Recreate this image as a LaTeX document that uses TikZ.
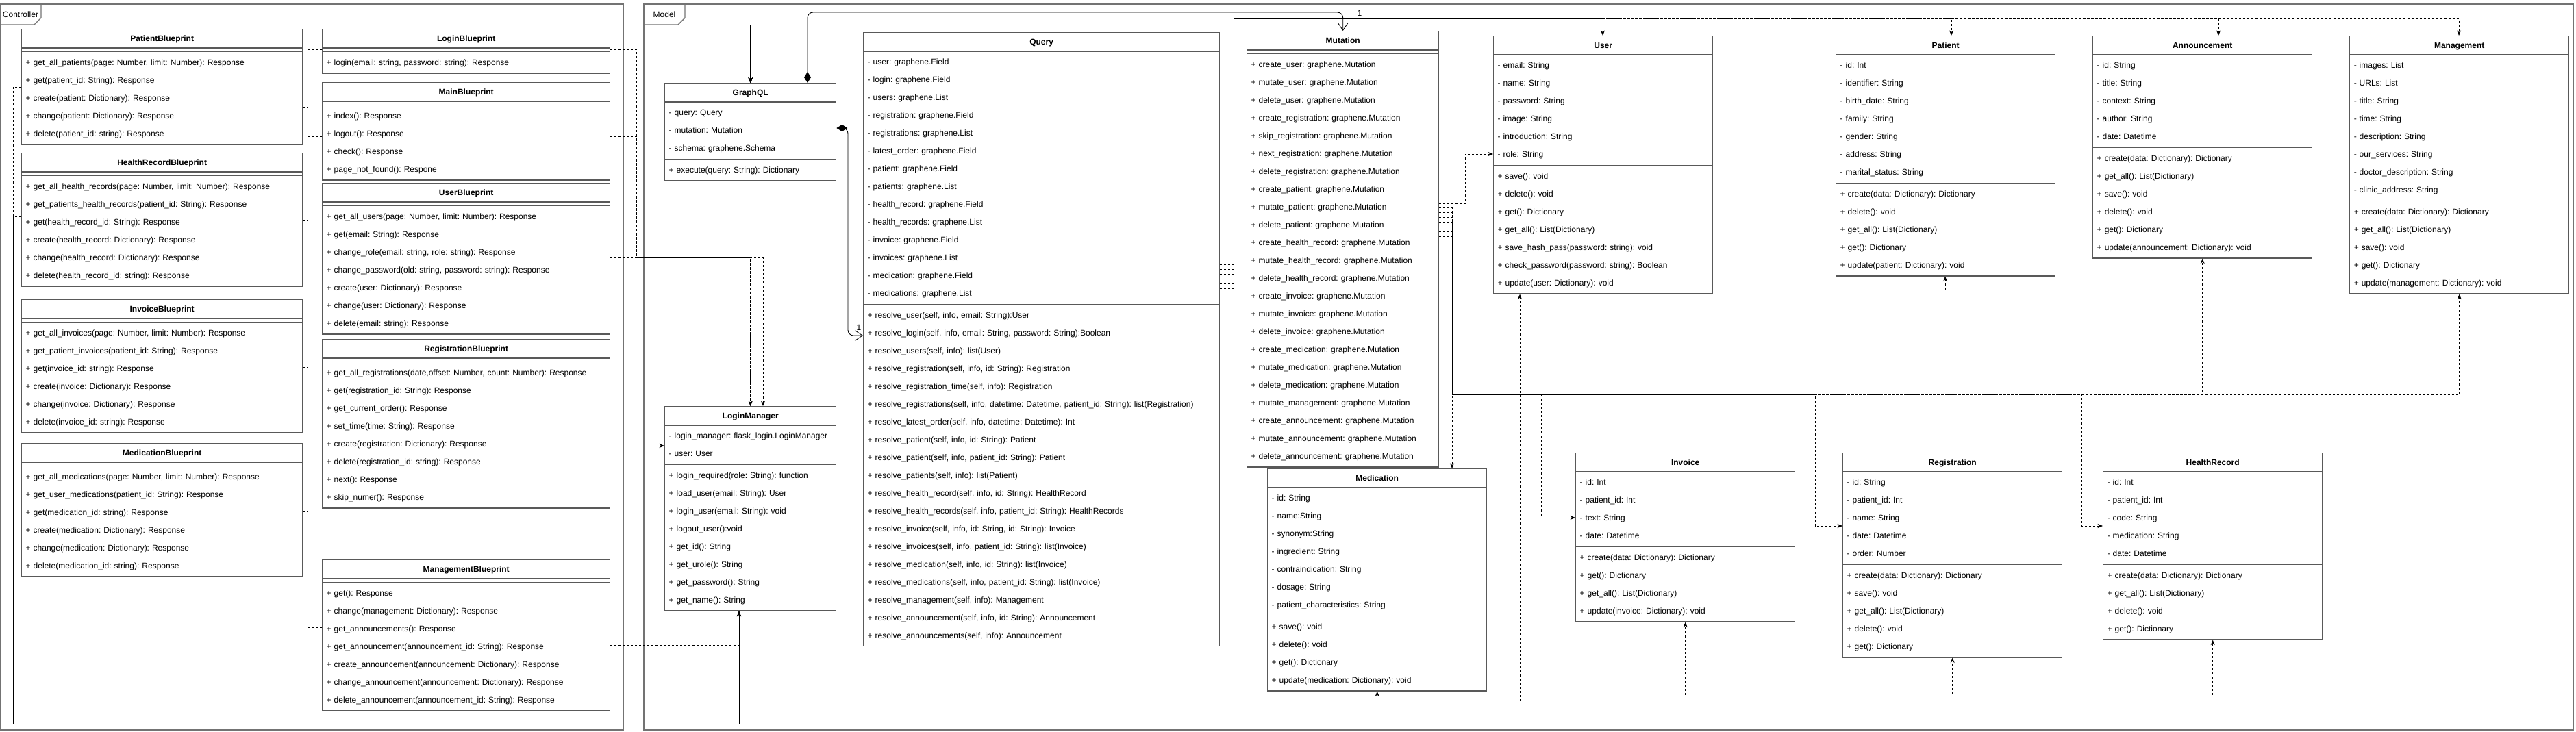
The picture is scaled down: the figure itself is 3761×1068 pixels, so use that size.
\documentclass[tikz,border=0pt]{standalone}
\usepackage{fontspec}
\setmainfont{Liberation Sans}
\usetikzlibrary{shapes.multipart,arrows.meta}
\newcommand\rw{\rule[-0.18cm]{0pt}{0.52cm}}
\newcommand\nl{\\\rw}
\newcommand\ttl[1]{\rule[-0.14cm]{0pt}{0.44cm}\hfill\textbf{#1}\hfill\null}
\tikzset{
	umlclass/.style={rectangle split, rectangle split parts=3, draw=black!65, line width=0.8pt, fill=white, anchor=north west, align=left, inner xsep=0.12cm, inner ysep=0.04cm, rectangle split empty part height=0pt, text width=#1},
	umlclass/.default=6.16cm,
	frame/.style={draw=black!55, line width=0.8pt},
	uses/.style={line width=0.5pt, dash pattern=on 0.06cm off 0.06cm, -{Stealth[length=0.15cm,width=0.12cm]}},
	link/.style={line width=0.5pt, -{Stealth[length=0.15cm,width=0.12cm]}},
	owns/.style={line width=0.5pt, rounded corners=0.16cm, {Diamond[length=0.32cm,width=0.2cm]}-{Straight Barb[length=0.22cm,width=0.3cm]}},
}
\begin{document}
\begin{tikzpicture}[x=0.02cm, y=-0.02cm, font=\fontsize{6.83pt}{0.52cm}\selectfont\frenchspacing]
	\useasboundingbox (0,0) rectangle (3761,1068);
	
	\draw[frame] (0.5,6) rectangle (910,1066);
	\draw[frame] (0.5,36) -- (50,36) -- (60,26) -- (60,6);
	\node (ctrl) at (30,21) {Controller};
	\coordinate (ctrltab) at (50,36);
	\draw[frame] (940,6) rectangle (3757,1066);
	\draw[frame] (940,36) -- (990,36) -- (1000,26) -- (1000,6);
	\node (model) at (970,21) {Model};
	
	\node[umlclass=7.96cm] (patbp) at (31,42) {\ttl{PatientBlueprint}\nodepart{second}\nodepart{third}\rw + get\_all\_patients(page: Number, limit: Number): Response\nl + get(patient\_id: String): Response\nl + create(patient: Dictionary): Response\nl + change(patient: Dictionary): Response\nl + delete(patient\_id: string): Response};
	\node[umlclass=7.96cm] (hrbp) at (31,223) {\ttl{HealthRecordBlueprint}\nodepart{second}\nodepart{third}\rw + get\_all\_health\_records(page: Number, limit: Number): Response\nl + get\_patients\_health\_records(patient\_id: String): Response\nl + get(health\_record\_id: String): Response\nl + create(health\_record: Dictionary): Response\nl + change(health\_record: Dictionary): Response\nl + delete(health\_record\_id: string): Response};
	\node[umlclass=7.96cm] (invbp) at (31,437) {\ttl{InvoiceBlueprint}\nodepart{second}\nodepart{third}\rw + get\_all\_invoices(page: Number, limit: Number): Response\nl + get\_patient\_invoices(patient\_id: String): Response\nl + get(invoice\_id: string): Response\nl + create(invoice: Dictionary): Response\nl + change(invoice: Dictionary): Response\nl + delete(invoice\_id: string): Response};
	\node[umlclass=7.96cm] (medbp) at (31,647) {\ttl{MedicationBlueprint}\nodepart{second}\nodepart{third}\rw + get\_all\_medications(page: Number, limit: Number): Response\nl + get\_user\_medications(patient\_id: String): Response\nl + get(medication\_id: string): Response\nl + create(medication: Dictionary): Response\nl + change(medication: Dictionary): Response\nl + delete(medication\_id: string): Response};
	
	\node[umlclass=8.16cm] (logbp) at (470,42) {\ttl{LoginBlueprint}\nodepart{second}\nodepart{third}\rw + login(email: string, password: string): Response};
	\node[umlclass=8.16cm] (mainbp) at (470,120) {\ttl{MainBlueprint}\nodepart{second}\nodepart{third}\rw + index(): Response\nl + logout(): Response\nl + check(): Response\nl + page\_not\_found(): Respone};
	\node[umlclass=8.16cm] (usrbp) at (470,267) {\ttl{UserBlueprint}\nodepart{second}\nodepart{third}\rw + get\_all\_users(page: Number, limit: Number): Response\nl + get(email: String): Response\nl + change\_role(email: string, role: string): Response\nl + change\_password(old: string, password: string): Response\nl + create(user: Dictionary): Response\nl + change(user: Dictionary): Response\nl + delete(email: string): Response};
	\node[umlclass=8.16cm] (regbp) at (470,495) {\ttl{RegistrationBlueprint}\nodepart{second}\nodepart{third}\rw + get\_all\_registrations(date,offset: Number, count: Number): Response\nl + get(registration\_id: String): Response\nl + get\_current\_order(): Response\nl + set\_time(time: String): Response\nl + create(registration: Dictionary): Response\nl + delete(registration\_id: string): Response\nl + next(): Response\nl + skip\_numer(): Response};
	\node[umlclass=8.16cm] (mgmtbp) at (470,817) {\ttl{ManagementBlueprint}\nodepart{second}\nodepart{third}\rw + get(): Response\nl + change(management: Dictionary): Response\nl + get\_announcements(): Response\nl + get\_announcement(announcement\_id: String): Response\nl + create\_announcement(announcement: Dictionary): Response\nl + change\_announcement(announcement: Dictionary): Response\nl + delete\_announcement(announcement\_id: String): Response};
	
	\node[umlclass=4.76cm] (gql) at (970,121) {\ttl{GraphQL}\nodepart{second}\rw - query: Query\nl - mutation: Mutation\nl - schema: graphene.Schema\nodepart{third}\rw + execute(query: String): Dictionary};
	\node[umlclass=4.76cm] (lm) at (970,593) {\ttl{LoginManager}\nodepart{second}\rw \mbox{- login\_manager: flask\_login.LoginManager}\nl - user: User\nodepart{third}\rw + login\_required(role: String): function\nl + load\_user(email: String): User\nl + login\_user(email: String): void\nl + logout\_user():void\nl + get\_id(): String\nl + get\_urole(): String\nl + get\_password(): String\nl + get\_name(): String};
	\node[umlclass=10.16cm] (query) at (1260,47) {\ttl{Query}\nodepart{second}\rw - user: graphene.Field\nl - login: graphene.Field\nl - users: graphene.List\nl - registration: graphene.Field\nl - registrations: graphene.List\nl - latest\_order: graphene.Field\nl - patient: graphene.Field\nl - patients: graphene.List\nl - health\_record: graphene.Field\nl - health\_records: graphene.List\nl - invoice: graphene.Field\nl - invoices: graphene.List\nl - medication: graphene.Field\nl - medications: graphene.List\nodepart{third}\rw + resolve\_user(self, info, email: String):User\nl + resolve\_login(self, info, email: String, password: String):Boolean\nl + resolve\_users(self, info): list(User)\nl + resolve\_registration(self, info, id: String): Registration\nl + resolve\_registration\_time(self, info): Registration\nl + resolve\_registrations(self, info, datetime: Datetime, patient\_id: String): list(Registration)\nl + resolve\_latest\_order(self, info, datetime: Datetime): Int\nl + resolve\_patient(self, info, id: String): Patient\nl + resolve\_patient(self, info, patient\_id: String): Patient\nl + resolve\_patients(self, info): list(Patient)\nl + resolve\_health\_record(self, info, id: String): HealthRecord\nl + resolve\_health\_records(self, info, patient\_id: String): HealthRecords\nl + resolve\_invoice(self, info, id: String, id: String): Invoice\nl + resolve\_invoices(self, info, patient\_id: String): list(Invoice)\nl + resolve\_medication(self, info, id: String): list(Invoice)\nl + resolve\_medications(self, info, patient\_id: String): list(Invoice)\nl + resolve\_management(self, info): Management\nl + resolve\_announcement(self, info, id: String): Announcement\nl + resolve\_announcements(self, info): Announcement};
	\node[umlclass=5.36cm] (mut) at (1820,45) {\ttl{Mutation}\nodepart{second}\nodepart{third}\rw + create\_user: graphene.Mutation\nl + mutate\_user: graphene.Mutation\nl + delete\_user: graphene.Mutation\nl + create\_registration: graphene.Mutation\nl + skip\_registration: graphene.Mutation\nl + next\_registration: graphene.Mutation\nl + delete\_registration: graphene.Mutation\nl + create\_patient: graphene.Mutation\nl + mutate\_patient: graphene.Mutation\nl + delete\_patient: graphene.Mutation\nl + create\_health\_record: graphene.Mutation\nl + mutate\_health\_record: graphene.Mutation\nl + delete\_health\_record: graphene.Mutation\nl + create\_invoice: graphene.Mutation\nl + mutate\_invoice: graphene.Mutation\nl + delete\_invoice: graphene.Mutation\nl + create\_medication: graphene.Mutation\nl + mutate\_medication: graphene.Mutation\nl + delete\_medication: graphene.Mutation\nl + mutate\_management: graphene.Mutation\nl + create\_announcement: graphene.Mutation\nl + mutate\_announcement: graphene.Mutation\nl + delete\_announcement: graphene.Mutation};
	
	\node[umlclass] (user) at (2180,52) {\ttl{User}\nodepart{second}\rw - email: String\nl - name: String\nl - password: String\nl - image: String\nl - introduction: String\nl - role: String\nodepart{third}\rw + save(): void\nl + delete(): void\nl + get(): Dictionary\nl + get\_all(): List(Dictionary)\nl + save\_hash\_pass(password: string): void\nl + check\_password(password: string): Boolean\nl + update(user: Dictionary): void};
	\node[umlclass] (patient) at (2680,52) {\ttl{Patient}\nodepart{second}\rw - id: Int\nl - identifier: String\nl - birth\_date: String\nl - family: String\nl - gender: String\nl - address: String\nl - marital\_status: String\nodepart{third}\rw + create(data: Dictionary): Dictionary\nl + delete(): void\nl + get\_all(): List(Dictionary)\nl + get(): Dictionary\nl + update(patient: Dictionary): void};
	\node[umlclass] (annc) at (3055,52) {\ttl{Announcement}\nodepart{second}\rw - id: String\nl - title: String\nl - context: String\nl - author: String\nl - date: Datetime\nodepart{third}\rw + create(data: Dictionary): Dictionary\nl + get\_all(): List(Dictionary)\nl + save(): void\nl + delete(): void\nl + get(): Dictionary\nl + update(announcement: Dictionary): void};
	\node[umlclass] (mgmt) at (3430,52) {\ttl{Management}\nodepart{second}\rw - images: List\nl - URLs: List\nl - title: String\nl - time: String\nl - description: String\nl - our\_services: String\nl - doctor\_description: String\nl - clinic\_address: String\nodepart{third}\rw + create(data: Dictionary): Dictionary\nl + get\_all(): List(Dictionary)\nl + save(): void\nl + get(): Dictionary\nl + update(management: Dictionary): void};
	
	\node[umlclass] (med) at (1850,684) {\ttl{Medication}\nodepart{second}\rw - id: String\nl - name:String\nl - synonym:String\nl - ingredient: String\nl - contraindication: String\nl - dosage: String\nl - patient\_characteristics: String\nodepart{third}\rw + save(): void\nl + delete(): void\nl + get(): Dictionary\nl + update(medication: Dictionary): void};
	\node[umlclass] (inv) at (2300,661) {\ttl{Invoice}\nodepart{second}\rw - id: Int\nl - patient\_id: Int\nl - text: String\nl - date: Datetime\nodepart{third}\rw + create(data: Dictionary): Dictionary\nl + get(): Dictionary\nl + get\_all(): List(Dictionary)\nl + update(invoice: Dictionary): void};
	\node[umlclass] (reg) at (2690,661) {\ttl{Registration}\nodepart{second}\rw - id: String\nl - patient\_id: Int\nl - name: String\nl - date: Datetime\nl - order: Number\nodepart{third}\rw + create(data: Dictionary): Dictionary\nl + save(): void\nl + get\_all(): List(Dictionary)\nl + delete(): void\nl + get(): Dictionary};
	\node[umlclass] (hrec) at (3070,661) {\ttl{HealthRecord}\nodepart{second}\rw - id: Int\nl - patient\_id: Int\nl - code: String\nl - medication: String\nl - date: Datetime\nodepart{third}\rw + create(data: Dictionary): Dictionary\nl + get\_all(): List(Dictionary)\nl + delete(): void\nl + get(): Dictionary};
	
	\draw[link] (ctrltab) -| (gql.north);
	\foreach \src/\yy in {patbp/156, hrbp/322, invbp/536, medbp/746}
		\draw[uses] (\src.east |- 0,\yy) -| (449,36) -| (gql.north);
	\foreach \src/\yy in {logbp/72, mainbp/199, usrbp/382, regbp/651, mgmtbp/916}
		\draw[uses] (\src.west |- 0,\yy) -| (449,36) -| (gql.north);
	
	\foreach \src/\yy in {patbp/127, hrbp/316, invbp/515, medbp/747}
		\draw[uses] (\src.west |- 0,\yy) -| (19.5,1057) -| (lm.south -| 1079,0);
	\foreach \src/\yy in {logbp/72, mainbp/199}
		\draw[uses] (\src.east |- 0,\yy) -| (929,376) -| (lm.north);
	\draw[uses] (usrbp.east |- 0,376) -| (lm.north -| 1114,0);
	\draw[uses] (regbp.east |- 0,651) -- (lm.west |- 0,651);
	\draw[uses] (mgmtbp.east |- 0,942) -| (lm.south -| 1079,0);
	\draw[uses] (lm.south -| 1179,0) |- (2219,1026) -- (user.south -| 2219,0);
	
	\draw[owns] (gql.north -| 1179,0) |- (mut.north |- 0,18) -- (mut.north);
	\node (mutone) at (1985,19) {1};
	\draw[owns] (gql.east |- 0,187) -| (1238,490) -- (query.west |- 0,490);
	\node (queryone) at (1254,478) {1};
	
	\foreach \dst/\xx/\yy in {user/2340/372, patient/2849/379, annc/3239/386, mgmt/3590/393}
		\draw[uses] (query.east |- 0,\yy) -| (1801,27) -| (\dst.north -| \xx,0);
	\foreach \dst/\yy in {med/400, inv/407, reg/414, hrec/421}
		\draw[uses] (query.east |- 0,\yy) -| (1801,1016) -| (\dst.south);
	
	\draw[uses] (mut.east |- 0,297) -| (2139,225) -- (user.west |- 0,225);
	\draw[uses] (mut.east |- 0,303) -| (med.north -| 2120,0);
	\draw[uses] (mut.east |- 0,310) -| (2120,426) -| (patient.south -| 2840,0);
	\draw[uses] (mut.east |- 0,317) -| (2120,576) -| (2250,756) -- (inv.west |- 0,756);
	\foreach \dst/\xx/\yy in {reg/2650/324, hrec/3039/331}
		\draw[uses] (mut.east |- 0,\yy) -| (2120,576) -| (\xx,768) -- (\dst.west |- 0,768);
	\foreach \dst/\yy in {annc/338, mgmt/345}
		\draw[uses] (mut.east |- 0,\yy) -| (2120,576) -| (\dst.south);
\end{tikzpicture}
\end{document}
